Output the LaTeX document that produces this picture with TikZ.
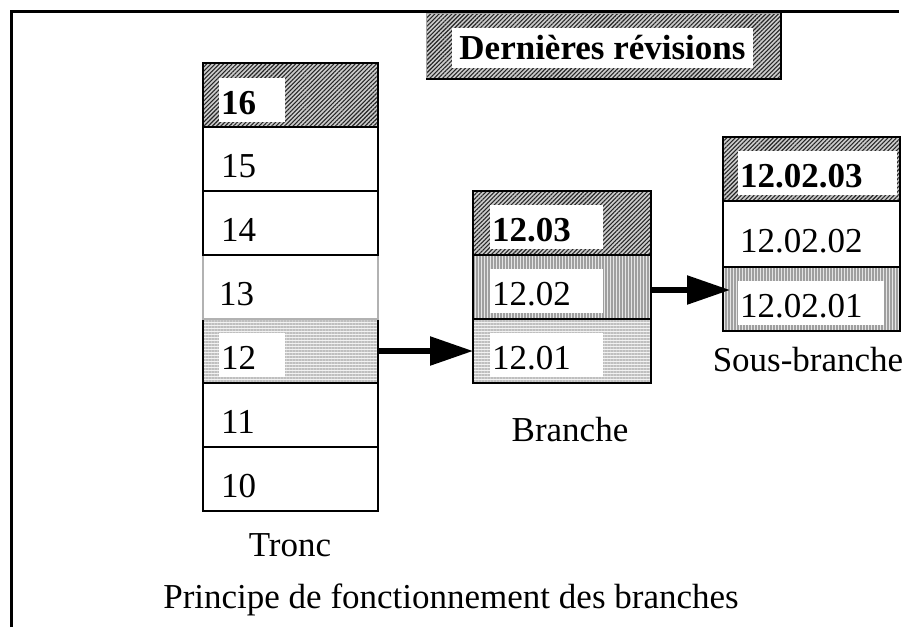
\documentclass[tikz,border=0pt]{standalone}
\usepackage{fontspec}
\setmainfont{Liberation Serif}
\usetikzlibrary{patterns.meta,arrows.meta}

\begin{document}
\begin{tikzpicture}[x=1pt,y=-1pt,
  txt/.style={font=\fontsize{35}{40}\selectfont},
  cell/.style={draw=black, line width=2.2pt, minimum width=175pt, minimum height=64pt,
    inner sep=0pt, outer sep=0pt, anchor=north west},
  diag/.style={preaction={fill=gray!40},
    pattern={Lines[angle=45,distance=3pt,line width=1.1pt]}, pattern color=black!85},
  vert/.style={preaction={fill=gray!20},
    pattern={Lines[angle=90,distance=3pt,line width=1.1pt]}, pattern color=gray!75},
  horiz/.style={preaction={fill=gray!10},
    pattern={Lines[angle=0,distance=3pt,line width=1.1pt]}, pattern color=gray!50},
  lab/.style={txt, inner ysep=0pt, inner xsep=2pt, text height=36pt, text depth=8pt,
    anchor=west, align=left},
  boxed/.style={lab, fill=white},
  arr/.style={line width=5.5pt, -{Triangle[length=43pt,width=28pt]}},
]
\useasboundingbox (0,0) rectangle (909,627);

% outer frame (top and left edges only)
\coordinate (fbl) at (11,627);
\coordinate (ftl) at (11,11);
\coordinate (ftr) at (899,11);
\draw[line width=3pt] (fbl) -- (ftl) -- (ftr);

% header box
\node[anchor=north west, minimum width=354pt, minimum height=65pt, inner sep=0pt,
  diag, draw=gray!70, line width=0.8pt] (hdr) at (426,13) {};
\draw[line width=2.4pt] (hdr.north east) -- (hdr.south east) -- (hdr.south west);
\node[txt, font=\fontsize{35}{40}\selectfont\bfseries, fill=white, inner xsep=4pt,
  minimum width=301pt, minimum height=40pt, inner ysep=0pt] (hdrl) at (602.5,48) {Dernières révisions};

% trunk column
\node[cell, diag] (t16) at (203,63) {};
\node[cell] (t15) at (203,127) {};
\node[cell, horiz] (t12) at (203,319) {};
\node[cell] (t11) at (203,383) {};
\node[cell] (t10) at (203,447) {};
\node[cell, draw=gray!60] (t13) at (203,255) {};
\node[cell] (t14) at (203,191) {};

\node[boxed, text width=62pt, font=\fontsize{35}{40}\selectfont\bfseries] (t16l) at ([xshift=16pt,yshift=-5pt]t16.west) {16};
\node[lab, text width=62pt] (t15l) at ([xshift=16pt,yshift=-4pt]t15.west) {15};
\node[lab, text width=62pt] (t14l) at ([xshift=16pt,yshift=-4pt]t14.west) {14};
\node[lab, text width=62pt] (t13l) at ([xshift=14pt,yshift=-4pt]t13.west) {13};
\node[boxed, text width=62pt] (t12l) at ([xshift=16pt,yshift=-4pt]t12.west) {12};
\node[lab, text width=62pt] (t11l) at ([xshift=16pt,yshift=-4pt]t11.west) {11};
\node[lab, text width=62pt] (t10l) at ([xshift=16pt,yshift=-4pt]t10.west) {10};

% branch column
\node[cell, diag, minimum width=178pt] (b03) at (473,191) {};
\node[cell, vert, minimum width=178pt] (b02) at (473,255) {};
\node[cell, horiz, minimum width=178pt] (b01) at (473,319) {};

\node[boxed, text width=109pt, font=\fontsize{35}{40}\selectfont\bfseries] (b03l) at ([xshift=17pt,yshift=-4pt]b03.west) {12.03};
\node[boxed, text width=109pt] (b02l) at ([xshift=17pt,yshift=-4pt]b02.west) {12.02};
\node[boxed, text width=109pt] (b01l) at ([xshift=17pt,yshift=-4pt]b01.west) {12.01};

% sub-branch column
\node[cell, diag, minimum width=177pt] (s03) at (723,137) {};
\node[cell, minimum width=177pt, minimum height=66pt] (s02) at (723,201) {};
\node[cell, vert, minimum width=177pt] (s01) at (723,267) {};

\node[boxed, text width=155pt, font=\fontsize{35}{40}\selectfont\bfseries] (s03l) at ([xshift=15pt,yshift=-4pt]s03.west) {12.02.03};
\node[lab, text width=155pt] (s02l) at ([xshift=15pt,yshift=-4pt]s02.west) {12.02.02};
\node[boxed, text width=142pt] (s01l) at ([xshift=15pt,yshift=-4pt]s01.west) {12.02.01};

% connectors
\draw[arr] (t12.east) -- (b01.west);
\draw[arr, shorten >=-7pt] ([yshift=-3pt]b02.east) -- ([yshift=-3pt]b02.east -| s01.west);

% captions
\node[txt] (tronc) at (290,545) {Tronc};
\node[txt] (branche) at (570,430) {Branche};
\node[txt] (sousbr) at (808,360) {Sous-branche};
\node[txt] (titre) at (451,600) {Principe de fonctionnement des branches};
\end{tikzpicture}
\end{document}
